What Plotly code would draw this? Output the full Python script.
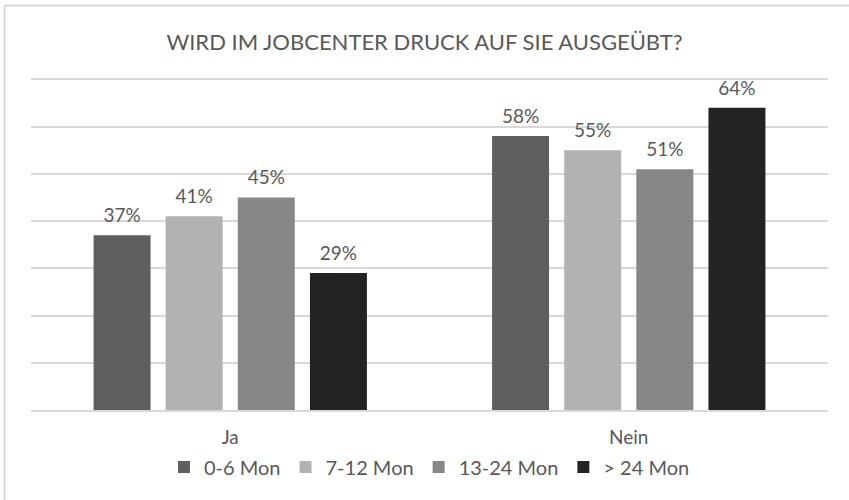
import plotly.graph_objects as go

categories = ["Ja", "Nein"]
series_names = ["0-6 Mon", "7-12 Mon", "13-24 Mon", "> 24 Mon"]
series_values = {
    "0-6 Mon": [37, 58],
    "7-12 Mon": [41, 55],
    "13-24 Mon": [45, 51],
    "> 24 Mon": [29, 64],
}
colors = ["#5f5f5f", "#b2b2b2", "#878787", "#232323"]

W, H = 849, 500
L, R, T, B = 31, 21, 78, 90
FONT = "Lato, 'Open Sans', sans-serif"
BARGAP = 0.276

fig = go.Figure()
for name, col in zip(series_names, colors):
    vals = series_values[name]
    fig.add_trace(go.Bar(
        x=categories, y=vals, name=name, offsetgroup=name, alignmentgroup="g",
        marker=dict(color=col, line=dict(width=0)),
        hoverinfo="skip",
    ))
for name in series_names:
    vals = series_values[name]
    fig.add_trace(go.Scatter(
        x=categories, y=vals, mode="markers+text", showlegend=False,
        offsetgroup=name, alignmentgroup="g",
        marker=dict(size=12, opacity=0),
        text=[f"{v}%" for v in vals], textposition="top center",
        textfont=dict(size=19, color="#595959", family=FONT),
        cliponaxis=False, hoverinfo="skip",
    ))

pw = W - L - R
ph = H - T - B
def px_x(p):
    return (p - L) / pw
def px_y(p):
    return (H - B - p) / ph

shapes = [
    dict(type="line", xref="paper", yref="paper", x0=px_x(4.5), x1=px_x(849), y0=px_y(5.5), y1=px_y(5.5),
         line=dict(color="#d9d9d9", width=2)),
    dict(type="line", xref="paper", yref="paper", x0=px_x(4.5), x1=px_x(4.5), y0=px_y(5.5), y1=px_y(500),
         line=dict(color="#d9d9d9", width=2)),
]

fig.update_layout(
    width=W, height=H,
    margin=dict(l=L, r=R, t=T, b=B),
    paper_bgcolor="white", plot_bgcolor="white",
    barmode="group", bargap=BARGAP, bargroupgap=0.21,
    scattermode="group", scattergap=BARGAP,
    title=dict(text="WIRD IM JOBCENTER DRUCK AUF SIE AUSGEÜBT?", x=0.5, xanchor="center",
               y=1 - 42 / H, yanchor="middle", yref="container",
               font=dict(family=FONT, size=22, color="#595959")),
    xaxis=dict(showgrid=False, showline=True, linecolor="#d9d9d9", linewidth=2,
               ticks="", ticklabelstandoff=9,
               tickfont=dict(family=FONT, size=19, color="#595959"), fixedrange=True),
    yaxis=dict(range=[0, 70.3], tickvals=[10, 20, 30, 40, 50, 60, 70], showgrid=True,
               gridcolor="#d9d9d9", gridwidth=2,
               showticklabels=False, zeroline=False, fixedrange=True),
    legend=dict(orientation="h", x=0.5, xanchor="center", y=px_y(467), yanchor="middle",
                font=dict(family=FONT, size=20, color="#595959"), itemwidth=30),
    shapes=shapes,
    showlegend=True,
)

fig.write_html("out.html", post_script="document.body.style.margin='0';",
               config={"displayModeBar": False})
